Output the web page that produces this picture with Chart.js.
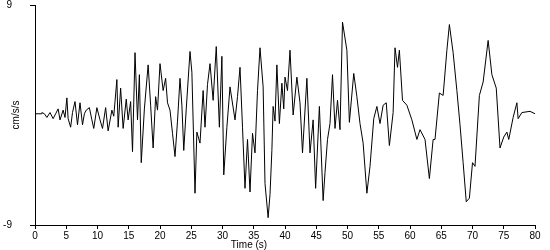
<!DOCTYPE html>
<html>
<head>
<meta charset="utf-8">
<script src="https://cdn.jsdelivr.net/npm/chart.js@4"></script>
<style>
html,body{margin:0;padding:0;background:#fff;}
#wrap{width:550px;height:250px;}
</style>
</head>
<body>
<div id="wrap"><canvas id="c" width="550" height="250"></canvas></div>
<script>
const times = [0,0.5,1.0,1.1,1.5,1.9,2.4,2.9,3.3,3.7,4.0,4.5,4.8,5.1,5.3,5.7,6.0,6.4,6.8,7.2,7.6,7.9,8.2,8.7,9.1,9.4,9.9,10.4,10.8,11.3,11.7,12.3,12.6,13.1,13.3,13.7,14.1,14.6,14.9,15.3,15.6,16.0,16.4,16.7,17.0,17.5,18.1,18.5,18.9,19.3,19.6,20.0,20.5,20.9,21.2,21.6,22.0,22.4,22.8,23.2,23.5,23.8,24.2,24.8,25.1,25.6,25.9,26.4,26.9,27.2,27.6,28.0,28.5,29.0,29.5,29.9,30.2,30.7,31.2,32.0,32.4,32.8,33.2,33.6,34.0,34.4,34.8,35.2,35.6,36.0,36.5,36.8,37.3,37.6,37.9,38.1,38.4,38.7,39.1,39.5,39.8,40.0,40.4,40.8,41.3,41.9,42.4,42.8,43.5,44.0,44.5,44.9,45.5,46.1,46.4,46.8,47.2,47.6,48.0,48.4,48.8,49.2,49.9,50.3,51.0,51.5,52.0,52.5,53.1,53.6,54.2,54.7,55.2,55.7,56.2,56.7,57.3,57.6,58.0,58.3,58.8,59.5,60.3,61.1,61.6,62.4,63.1,63.7,64.0,64.7,65.3,65.9,66.3,66.9,67.5,68.0,68.5,69.0,69.5,70.0,70.4,71.1,71.7,72.5,73.1,73.8,74.4,75.0,75.5,75.8,76.5,77.1,77.3,77.9,79.2,80.0];
const accel = [0.1,0.1,0.1,0.2,0.1,-0.2,0.2,-0.3,0.1,0.5,-0.4,0.4,-0.2,1.4,-0.3,-1.0,0.2,1.1,-0.8,1.0,-0.8,0.1,0.4,0.6,-0.4,-1.1,0.6,-0.4,-1.1,0.6,-1.3,0.4,-0.1,2.9,-1.0,2.2,-1.1,1.3,-0.4,1.1,-3.0,5.1,-0.4,3.3,-3.9,0.5,4.1,0.8,-2.7,1.5,0.4,4.2,2.0,3.0,1.0,0.4,-1.5,-3.4,-0.5,3.0,0.8,-2.9,0.5,5.2,3.5,-6.4,-1.4,-2.3,2.0,-1.0,2.5,4.2,1.2,5.6,-1.0,4.8,-4.9,-1.0,2.3,-0.4,1.5,3.9,-1.0,-6.0,-2.0,-6.3,-1.5,-3.1,2.0,5.5,2.3,-5.6,-8.4,-6.5,-2.9,0.7,-0.5,4.1,-0.7,2.6,0.5,3.1,2.0,5.3,0.0,3.1,1.0,-3.1,3.0,-3.1,-0.4,-6.0,0.7,-7.0,-4.7,-2.0,-0.7,3.3,-1.1,1.2,-1.2,7.6,5.3,-0.6,3.4,1.5,-0.7,-2.3,-6.4,-4.2,-0.3,0.7,-0.7,0.8,1.0,-2.5,0.2,5.5,3.9,5.3,1.2,0.8,-0.4,-2.0,-1.2,-2.0,-5.2,-2.0,-2.0,1.8,1.6,5.3,7.4,5.1,2.0,-0.8,-3.9,-7.1,-6.8,-3.9,-4.2,1.6,2.7,6.1,3.3,2.2,-2.7,-1.8,-1.4,-2.0,-0.2,1.0,-0.3,0.2,0.3,0.1];
const xTicks = [0,5,10,15,20,25,30,35,40,45,50,55,60,65,70,75,80];
const yTicks = [-9,9];
const xTitle = "Time (s)";
const yTitle = "cm/s/s";

const FONT = {family: "'Liberation Sans', Arial, sans-serif", size: 10};

const titles = {
  id: 'titles',
  afterDraw(chart) {
    const ctx = chart.ctx;
    ctx.save();
    ctx.fillStyle = '#000';
    ctx.font = "10px 'Liberation Sans', Arial, sans-serif";
    ctx.textAlign = 'center';
    ctx.textBaseline = 'middle';
    ctx.fillText(xTitle, 249, 245);
    ctx.translate(16, 115);
    ctx.rotate(-Math.PI / 2);
    ctx.fillText(yTitle, 0, 0);
    ctx.restore();
  }
};

new Chart(document.getElementById('c'), {
  type: 'line',
  data: {
    datasets: [{
      data: times.map((t, i) => ({x: t, y: accel[i]})),
      borderColor: '#000',
      borderWidth: 1,
      pointRadius: 0,
      tension: 0,
      fill: false
    }]
  },
  options: {
    responsive: false,
    animation: false,
    layout: {padding: {top: 5, right: 15, left: 0, bottom: 0}},
    plugins: {legend: {display: false}, tooltip: {enabled: false}},
    scales: {
      x: {
        type: 'linear', min: 0, max: 80,
        afterBuildTicks: s => { s.ticks = xTicks.map(v => ({value: v})); },
        afterFit: s => { s.height = 25; s.paddingLeft = 0; s.paddingRight = 0; },
        ticks: {color: '#000', font: FONT, padding: 1, maxRotation: 0, autoSkip: false},
        grid: {display: true, drawOnChartArea: false, tickLength: 4, color: '#000'},
        border: {display: true, color: '#000', width: 1}
      },
      y: {
        min: -9, max: 9,
        afterBuildTicks: s => { s.ticks = yTicks.map(v => ({value: v})); },
        afterFit: s => { s.width = 35; s.paddingTop = 0; s.paddingBottom = 0; },
        ticks: {color: '#000', font: FONT, padding: 18, autoSkip: false},
        grid: {display: true, drawOnChartArea: false, tickLength: 5, color: '#000'},
        border: {display: true, color: '#000', width: 1}
      }
    }
  },
  plugins: [titles]
});
</script>
</body>
</html>
